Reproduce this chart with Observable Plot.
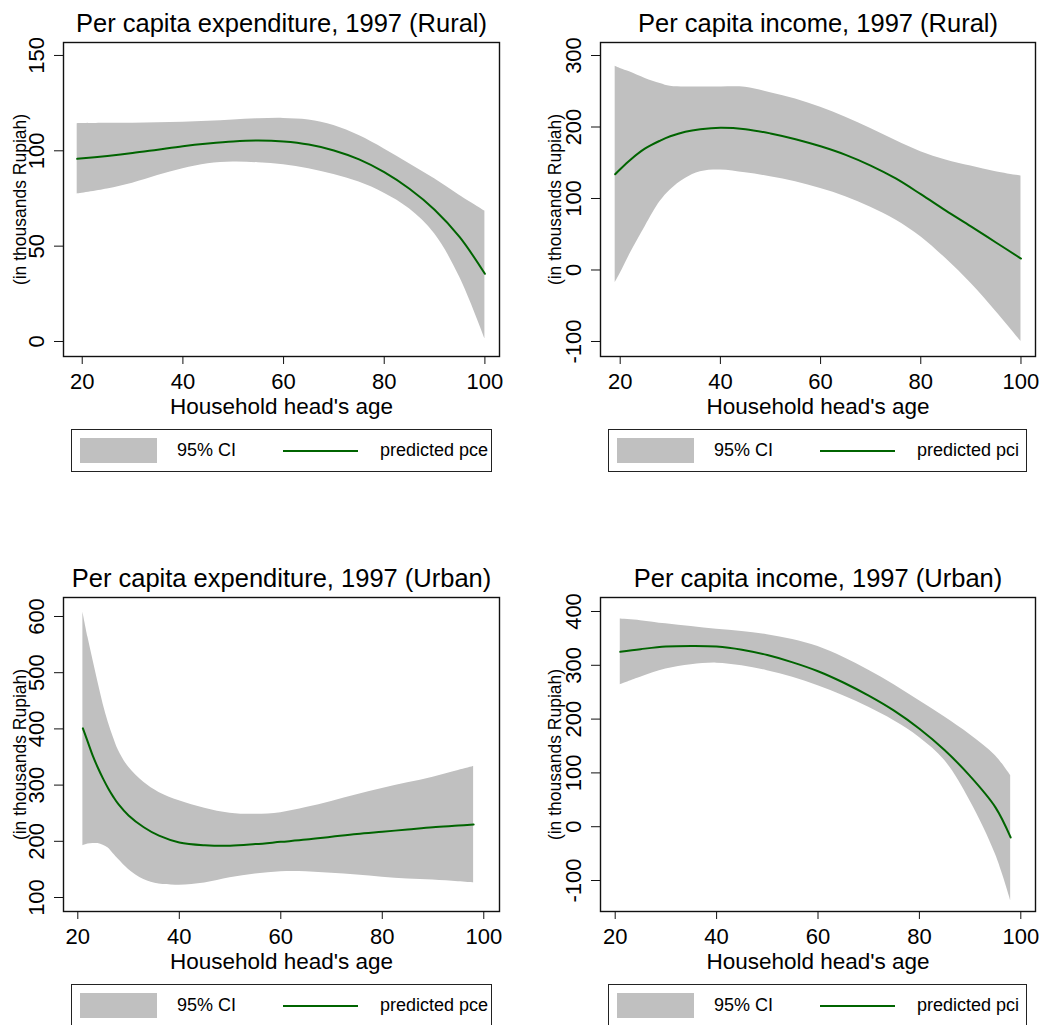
<!DOCTYPE html>
<html>
<head>
<meta charset="utf-8">
<script src="https://cdn.jsdelivr.net/npm/d3@7"></script>
<script src="https://cdn.jsdelivr.net/npm/@observablehq/plot@0.6"></script>
<style>
  html, body { margin: 0; padding: 0; background: #fff; }
  body { width: 1046px; height: 1025px; overflow: hidden; position: relative;
         font-family: "Liberation Sans", Arial, Helvetica, sans-serif; color: #000; }
  .panel { position: absolute; width: 523px; }
  .legend { position: absolute; height: 43px; box-sizing: border-box;
            border: 1.3px solid #222; background: #fff; }
  .legend .sw { position: absolute; left: 8px; top: 8px; width: 77px; height: 25px; background: #c0c0c0; }
  .legend .t { position: absolute; top: 0; line-height: 41px; font-size: 18px; white-space: nowrap; }
  .legend .ln { position: absolute; top: 19.5px; width: 75px; height: 2px; background: #006400; }
</style>
</head>
<body>
<script>
// ---------------- data ----------------
const xTicks = [20, 40, 60, 80, 100];
const xLabel = "Household head's age";
const yLabel = "(in thousands Rupiah)";
const ciLabel = "95% CI";

// Panel 1: Per capita expenditure, 1997 (Rural)
const title1 = "Per capita expenditure, 1997 (Rural)";
const ages1 = [19, 25, 30, 35, 40, 45, 50, 55, 60, 65, 70, 75, 80, 85, 90, 95, 100];
const pred1 = [95.8, 97.3, 98.8, 100.6, 102.4, 103.8, 104.9, 105.4, 104.9, 103.3, 100.2, 95.5, 88.8, 80.1, 69.1, 54.7, 35.5];
const hi1   = [114.2, 114.4, 114.5, 114.7, 115.0, 115.5, 116.2, 116.8, 117.0, 116.2, 113.3, 108.0, 101.0, 93.2, 85.3, 76.6, 68.4];
const lo1   = [77.4, 80.0, 83.0, 87.0, 90.6, 93.2, 94.1, 93.7, 92.7, 90.6, 87.6, 83.6, 77.8, 69.6, 56.5, 33.7, 1.4];
const yTicks1 = [0, 50, 100, 150];
const predLabel1 = "predicted pce";

// Panel 2: Per capita income, 1997 (Rural)
const title2 = "Per capita income, 1997 (Rural)";
const ages2 = [19, 20, 22, 25, 28, 30, 33, 36, 40, 45, 50, 55, 60, 65, 70, 75, 80, 85, 90, 95, 100];
const pred2 = [134, 141, 154, 170, 181, 187, 193.5, 197, 199, 197, 191, 183, 173, 161, 146, 128, 106, 83, 61, 38.5, 16];
const hi2   = [285, 282, 277, 268, 261, 257, 256, 256, 256, 255.5, 248, 239, 227.5, 213.5, 198, 181, 165.5, 154, 145.5, 137.5, 131.5];
const lo2   = [-18, -5, 23, 61, 96, 112, 128, 137.5, 140, 136, 130.5, 123.5, 114, 102.6, 87.6, 70, 46.6, 16, -18.6, -58, -100];
const yTicks2 = [-100, 0, 100, 200, 300];
const predLabel2 = "predicted pci";

// Panel 3: Per capita expenditure, 1997 (Urban)
const title3 = "Per capita expenditure, 1997 (Urban)";
const ages3 = [21, 22, 23, 24, 25, 26, 27, 28, 30, 33, 36, 40, 45, 50, 55, 60, 65, 70, 75, 80, 85, 90, 95, 98];
const pred3 = [401, 376, 351, 330, 311, 294, 279, 266, 246, 225, 210, 198, 193, 192, 195, 199, 203, 208, 213, 217, 221, 225, 228, 230];
const hi3   = [608, 563, 522, 482, 444, 412, 385, 362, 332, 305, 287, 272, 259, 250, 248, 251, 260, 271, 283, 294, 304, 314, 326, 333];
const lo3   = [192, 195, 196, 196, 193, 188, 178, 168, 150, 132, 124, 122, 126, 135, 142, 146, 146, 143, 140, 136, 133, 131, 128, 126];
const yTicks3 = [100, 200, 300, 400, 500, 600];
const predLabel3 = "predicted pce";

// Panel 4: Per capita income, 1997 (Urban)
const title4 = "Per capita income, 1997 (Urban)";
const ages4 = [21, 25, 30, 35, 40, 45, 50, 55, 60, 65, 70, 75, 80, 85, 90, 95, 98];
const pred4 = [325, 330, 335, 336, 335, 329, 319, 305.5, 289, 268, 243.5, 215.6, 182, 142, 94, 36, -20];
const hi4   = [386, 383, 377, 372, 367, 363, 357, 348, 335, 315, 291, 264, 234, 204, 171, 132, 95];
const lo4   = [264, 278, 293, 301, 304, 299, 290, 278, 262, 243.5, 222, 197, 166, 123, 48, -51, -137];
const yTicks4 = [-100, 0, 100, 200, 300, 400];
const predLabel4 = "predicted pci";

// ---------------- layout ----------------
const panels = [
  {title: title1, ages: ages1, pred: pred1, hi: hi1, lo: lo1, yTicks: yTicks1, predLabel: predLabel1,
   left: 0, top: 0, mL: 63, mR: 24, ylabDx: -43, xDom: [16.28, 102.9], yDom: [-7.87, 156.8], lgLeft: 71, lgW: 421},
  {title: title2, ages: ages2, pred: pred2, hi: hi2, lo: lo2, yTicks: yTicks2, predLabel: predLabel2,
   left: 523, top: 0, mL: 77, mR: 11, ylabDx: -45, xDom: [16.07, 102.9], yDom: [-121, 318.2], lgLeft: 85, lgW: 419},
  {title: title3, ages: ages3, pred: pred3, hi: hi3, lo: lo3, yTicks: yTicks3, predLabel: predLabel3,
   left: 0, top: 555, mL: 63, mR: 24, ylabDx: -43, xDom: [17.18, 103.1], yDom: [75.1, 633.8], lgLeft: 71, lgW: 421},
  {title: title4, ages: ages4, pred: pred4, hi: hi4, lo: lo4, yTicks: yTicks4, predLabel: predLabel4,
   left: 523, top: 555, mL: 77, mR: 11, ylabDx: -45, xDom: [17.1, 102.9], yDom: [-157.6, 426], lgLeft: 85, lgW: 419}
];

const GRAY = "#c0c0c0";
const GREEN = "#006400";
const fmt = d => String(d);

for (const p of panels) {
  const rows = p.ages.map((a, i) => ({age: a, pred: p.pred[i], hi: p.hi[i], lo: p.lo[i]}));
  const chart = Plot.plot({
    width: 523,
    height: 420,
    marginLeft: p.mL,
    marginRight: p.mR,
    marginTop: 42,
    marginBottom: 64,
    style: {fontFamily: "'Liberation Sans', Arial, Helvetica, sans-serif", fontSize: "22px", color: "#000", background: "transparent", overflow: "visible"},
    x: {domain: p.xDom, label: null},
    y: {domain: p.yDom, label: null},
    marks: [
      Plot.areaY(rows, {x: "age", y1: "lo", y2: "hi", fill: GRAY, curve: "catmull-rom"}),
      Plot.lineY(rows, {x: "age", y: "pred", stroke: GREEN, strokeWidth: 2, curve: "catmull-rom"}),
      Plot.frame({stroke: "#111", strokeWidth: 1.4}),
      Plot.axisX({ticks: xTicks, tickFormat: fmt, tickSize: 8, tickPadding: 9, fontSize: 22, label: null, stroke: "#111"}),
      Plot.axisY({ticks: p.yTicks, tickFormat: fmt, tickSize: 9, tickPadding: 11, tickRotate: -90, fontSize: 22, label: null, stroke: "#111"}),
      Plot.text([p.title], {text: d => d, frameAnchor: "top", dy: -11, lineAnchor: "bottom", fontSize: 25.5, fill: "#000"}),
      Plot.text([xLabel], {text: d => d, frameAnchor: "bottom", dy: 57, lineAnchor: "bottom", fontSize: 22.5, fill: "#000"}),
      Plot.text([yLabel], {text: d => d, frameAnchor: "left", dx: p.ylabDx, rotate: -90, textAnchor: "middle", fontSize: 17.5, fill: "#000"})
    ]
  });
  const div = document.createElement("div");
  div.className = "panel";
  div.style.left = p.left + "px";
  div.style.top = p.top + "px";
  div.appendChild(chart);

  const lg = document.createElement("div");
  lg.className = "legend";
  lg.style.left = p.lgLeft + "px";
  lg.style.top = "429px";
  lg.style.width = p.lgW + "px";
  const sw = document.createElement("div"); sw.className = "sw"; lg.appendChild(sw);
  const t1 = document.createElement("div"); t1.className = "t"; t1.style.left = "105px"; t1.textContent = ciLabel; lg.appendChild(t1);
  const ln = document.createElement("div"); ln.className = "ln"; ln.style.left = "211px"; ln.style.background = GREEN; lg.appendChild(ln);
  const t2 = document.createElement("div"); t2.className = "t"; t2.style.left = "308px"; t2.textContent = p.predLabel; lg.appendChild(t2);
  div.appendChild(lg);
  document.body.appendChild(div);
}
</script>
</body>
</html>
